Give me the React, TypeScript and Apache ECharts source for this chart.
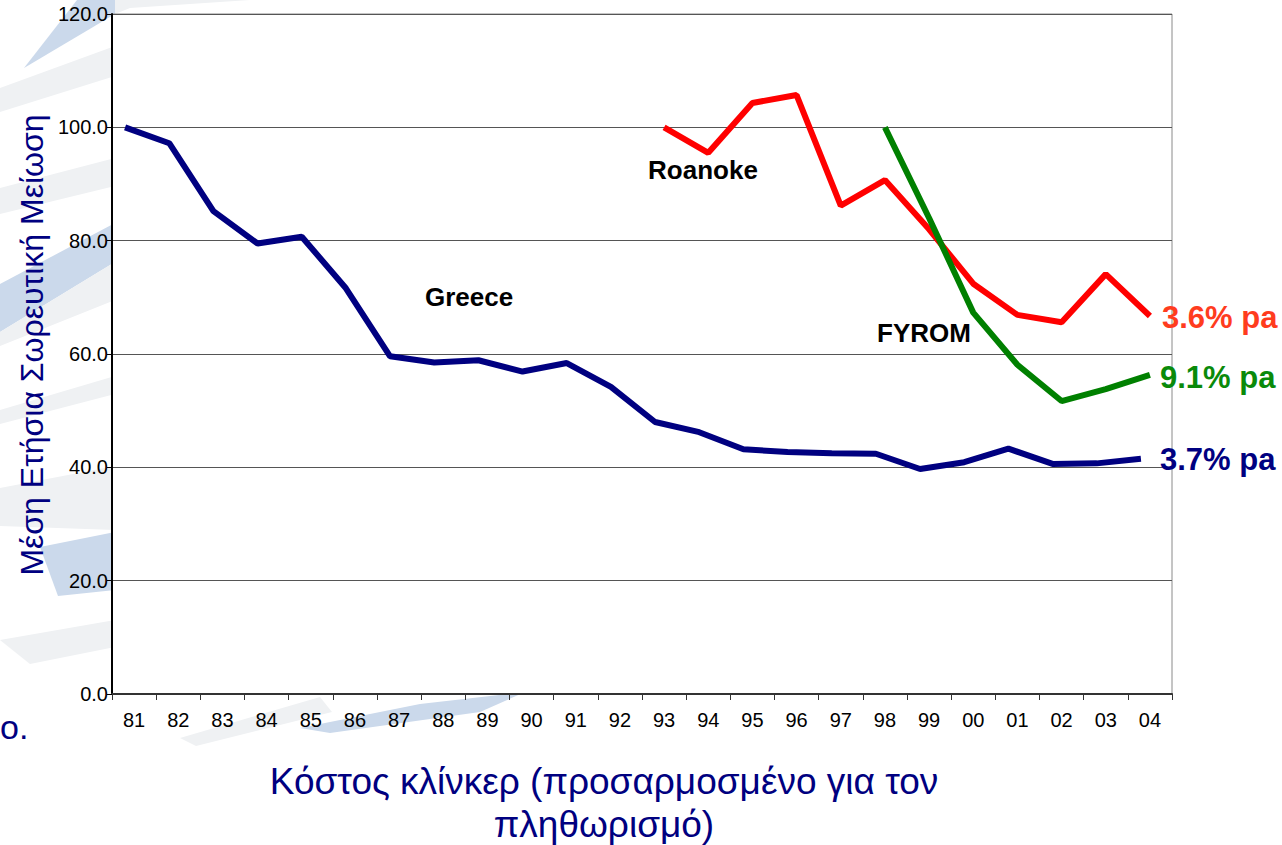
import React, { useEffect, useRef } from "react";
import * as echarts from "echarts";

const categories = ["81","82","83","84","85","86","87","88","89","90","91","92","93","94","95","96","97","98","99","00","01","02","03","04"];
const greece = [100.0, 97.2, 85.2, 79.5, 80.7, 71.6, 59.6, 58.5, 58.9, 56.9, 58.4, 54.2, 48.0, 46.2, 43.2, 42.7, 42.5, 42.4, 39.7, 40.9, 43.3, 40.6, 40.7, 41.5];
const roanoke = [null, null, null, null, null, null, null, null, null, null, null, null, 100.0, 95.5, 104.3, 105.7, 86.2, 90.7, 82.0, 72.4, 66.9, 65.6, 74.1, 66.7];
const fyrom = [null, null, null, null, null, null, null, null, null, null, null, null, null, null, null, null, null, 100.0, 84.0, 67.3, 58.1, 51.7, 53.8, 56.3];
const yTicks = [0, 20, 40, 60, 80, 100, 120];

const FONT = "'Liberation Sans', Arial, sans-serif";
const NAVY = "#000080";
const BLUE = "#cbd9eb";
const GRAY = "#eff1f3";

export default function App() {
  const ref = useRef<HTMLDivElement>(null);
  useEffect(() => {
    if (!ref.current) return;
    const chart = echarts.init(ref.current, null, { renderer: "svg" });
    const band = (pts: number[][], fill: string) => ({
      type: "polygon",
      silent: true,
      z: -10,
      shape: { points: pts },
      style: { fill },
    });
    chart.setOption({
      animation: false,
      backgroundColor: "#ffffff",
      textStyle: { fontFamily: FONT },
      grid: [
        { left: 112, right: 110, top: 14, bottom: 151, show: true, borderColor: "#8a8a8a", borderWidth: 1, backgroundColor: "#ffffff" },
        { left: 103, right: 119, top: 14, bottom: 151, show: false },
      ],
      xAxis: [
        {
          type: "category",
          gridIndex: 0,
          data: categories,
          boundaryGap: true,
          axisLine: { lineStyle: { color: "#333", width: 2 } },
          axisTick: { show: true, length: 6, lineStyle: { color: "#333" } },
          axisLabel: { color: "#000", fontSize: 20, margin: 16, fontFamily: FONT },
        },
        {
          type: "category",
          gridIndex: 1,
          data: categories,
          boundaryGap: true,
          show: false,
        },
      ],
      yAxis: [
        {
          type: "value",
          gridIndex: 0,
          min: yTicks[0],
          max: yTicks[yTicks.length - 1],
          interval: 20,
          axisLine: { show: true, lineStyle: { color: "#000", width: 2 } },
          axisTick: { show: true, length: 5, lineStyle: { color: "#000" } },
          axisLabel: { color: "#000", fontSize: 20, margin: 4, fontFamily: FONT, formatter: (v: number) => v.toFixed(1) },
          splitLine: { show: true, lineStyle: { color: "#555", width: 1 } },
        },
        {
          type: "value",
          gridIndex: 1,
          min: 0,
          max: 120,
          interval: 20,
          show: false,
          splitLine: { show: false },
        },
      ],
      series: [
        {
          name: "Greece",
          type: "line",
          xAxisIndex: 1,
          yAxisIndex: 1,
          data: greece,
          showSymbol: false,
          symbol: "none",
          lineStyle: { color: NAVY, width: 6 },
          z: 5,
        },
        {
          name: "Roanoke",
          type: "line",
          xAxisIndex: 0,
          yAxisIndex: 0,
          data: roanoke,
          showSymbol: false,
          symbol: "none",
          lineStyle: { color: "#ff0000", width: 6 },
          z: 4,
        },
        {
          name: "FYROM",
          type: "line",
          xAxisIndex: 0,
          yAxisIndex: 0,
          data: fyrom,
          showSymbol: false,
          symbol: "none",
          lineStyle: { color: "#008000", width: 6 },
          z: 6,
        },
      ],
      graphic: [
        band([[77, 0], [115, 0], [115, 14], [24, 68]], BLUE),
        band([[115, 14], [115, 0], [250, 0], [130, 8]], GRAY),
        band([[0, 88], [115, 46], [115, 76], [0, 112]], GRAY),
        band([[0, 188], [115, 158], [115, 186], [0, 214]], GRAY),
        band([[0, 284], [115, 223], [115, 262], [0, 332]], BLUE),
        band([[0, 332], [115, 262], [115, 300], [0, 346]], GRAY),
        band([[0, 410], [115, 376], [115, 394], [0, 424]], GRAY),
        band([[0, 488], [115, 466], [115, 530], [0, 526]], GRAY),
        band([[40, 547], [115, 532], [115, 590], [58, 596]], BLUE),
        band([[0, 640], [115, 620], [115, 647], [30, 664]], GRAY),
        band([[180, 738], [320, 697], [332, 712], [196, 746]], GRAY),
        band([[300, 728], [420, 704], [525, 692], [480, 712], [330, 733]], BLUE),
        {
          type: "text",
          x: 32,
          y: 345,
          rotation: Math.PI / 2,
          z: 10,
          style: {
            text: "Μέση Ετήσια Σωρευτική Μείωση",
            fill: NAVY,
            font: `32px ${FONT}`,
            textAlign: "center",
            textVerticalAlign: "middle",
          },
        },
        {
          type: "text",
          x: 604,
          y: 760,
          z: 10,
          style: {
            text: "Κόστος κλίνκερ (προσαρμοσμένο για τον\nπληθωρισμό)",
            fill: NAVY,
            font: `37px ${FONT}`,
            textAlign: "center",
            textVerticalAlign: "top",
            lineHeight: 43,
          },
        },
        {
          type: "text",
          x: 0,
          y: 727,
          z: 10,
          style: { text: "ο.", fill: NAVY, font: `34px ${FONT}`, textAlign: "left", textVerticalAlign: "middle" },
        },
        {
          type: "text",
          x: 703,
          y: 170,
          z: 10,
          style: { text: "Roanoke", fill: "#000", font: `bold 26px ${FONT}`, textAlign: "center", textVerticalAlign: "middle" },
        },
        {
          type: "text",
          x: 469,
          y: 297,
          z: 10,
          style: { text: "Greece", fill: "#000", font: `bold 26px ${FONT}`, textAlign: "center", textVerticalAlign: "middle" },
        },
        {
          type: "text",
          x: 924,
          y: 333,
          z: 10,
          style: { text: "FYROM", fill: "#000", font: `bold 26px ${FONT}`, textAlign: "center", textVerticalAlign: "middle" },
        },
        {
          type: "text",
          x: 1162,
          y: 317,
          z: 10,
          style: { text: "3.6% pa", fill: "#ff3c1e", font: `bold 31px ${FONT}`, textAlign: "left", textVerticalAlign: "middle" },
        },
        {
          type: "text",
          x: 1160,
          y: 377,
          z: 10,
          style: { text: "9.1% pa", fill: "#0a8a0a", font: `bold 31px ${FONT}`, textAlign: "left", textVerticalAlign: "middle" },
        },
        {
          type: "text",
          x: 1160,
          y: 459,
          z: 10,
          style: { text: "3.7% pa", fill: NAVY, font: `bold 31px ${FONT}`, textAlign: "left", textVerticalAlign: "middle" },
        },
      ],
    });
    return () => chart.dispose();
  }, []);
  return <div ref={ref} style={{ position: "fixed", left: 0, top: 0, width: 1282, height: 845 }} />;
}
